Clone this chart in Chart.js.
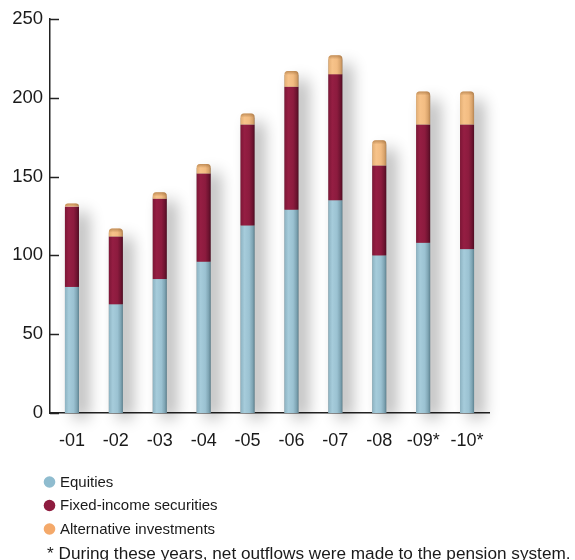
<!DOCTYPE html>
<html>
<head>
<meta charset="utf-8">
<script src="https://cdn.jsdelivr.net/npm/chart.js@4.4.0/dist/chart.umd.min.js"></script>
<style>
  html, body { margin: 0; padding: 0; background: #ffffff; }
  #wrap { width: 575px; height: 560px; position: relative; }
</style>
</head>
<body>
<div id="wrap"><canvas id="c" width="575" height="560"></canvas></div>
<script>
// Pension fund capital by asset class, per year
const years = ['-01', '-02', '-03', '-04', '-05', '-06', '-07', '-08', '-09*', '-10*'];
const equities = [80, 69, 85, 96, 119, 129, 135, 100, 108, 104];
const fixedIncome = [51, 43, 51, 56, 64, 78, 80, 57, 75, 79];
const alternatives = [2, 5, 4, 6, 7, 10, 12, 16, 21, 21];
const yTicks = [0, 50, 100, 150, 200, 250];
const seriesNames = ['Equities', 'Fixed-income securities', 'Alternative investments'];
const footnote = '* During these years, net outflows were made to the pension system.';

const FONT = '"Liberation Sans", Arial, sans-serif';

// Cylinder-style shading for each series (left -> right across a bar)
const shades = [
  { legend: '#8fbccf', stops: [[0, '#8cb2c1'], [0.28, '#a6ccdb'], [0.62, '#9bc2d2'], [0.85, '#7fa5b4'], [1, '#5e8391']] },
  { legend: '#8e1c3f', stops: [[0, '#7d1636'], [0.28, '#951e43'], [0.62, '#8c1b3e'], [0.85, '#6e1330'], [1, '#4f0c22']] },
  { legend: '#f4a96a', stops: [[0, '#e2ad73'], [0.28, '#f7c38a'], [0.62, '#f2bc82'], [0.85, '#d9a46c'], [1, '#b58452']] }
];

const cylinderBars = {
  id: 'cylinderBars',
  beforeDatasetsDraw(chart) {
    const ctx = chart.ctx;
    const n = chart.data.datasets.length;
    // soft drop shadow behind each full stack
    ctx.save();
    chart.data.labels.forEach((_, i) => {
      let top = Infinity, bottom = -Infinity, x = 0, w = 0;
      for (let d = 0; d < n; d++) {
        const p = chart.getDatasetMeta(d).data[i].getProps(['x', 'y', 'base', 'width'], true);
        top = Math.min(top, p.y);
        bottom = Math.max(bottom, p.base);
        x = p.x; w = p.width;
      }
      ctx.shadowColor = 'rgba(0,0,0,0.32)';
      ctx.shadowBlur = 16;
      ctx.shadowOffsetX = 9;
      ctx.shadowOffsetY = 5;
      ctx.fillStyle = '#999';
      ctx.fillRect(x - w / 2, top + 4, w, bottom - top - 4);
    });
    ctx.restore();

    // shaded segments
    for (let d = 0; d < n; d++) {
      const meta = chart.getDatasetMeta(d);
      meta.data.forEach((el) => {
        const p = el.getProps(['x', 'y', 'base', 'width'], true);
        const left = p.x - p.width / 2;
        const g = ctx.createLinearGradient(left, 0, left + p.width, 0);
        shades[d].stops.forEach(s => g.addColorStop(s[0], s[1]));
        ctx.save();
        ctx.fillStyle = g;
        const h = p.base - p.y;
        if (d === n - 1) {
          const r = Math.min(3.5, h);
          ctx.beginPath();
          ctx.moveTo(left, p.base);
          ctx.lineTo(left, p.y + r);
          ctx.quadraticCurveTo(left, p.y, left + r, p.y);
          ctx.lineTo(left + p.width - r, p.y);
          ctx.quadraticCurveTo(left + p.width, p.y, left + p.width, p.y + r);
          ctx.lineTo(left + p.width, p.base);
          ctx.closePath();
          ctx.fill();
          // darker rim along the rounded cap
          const rim = ctx.createLinearGradient(0, p.y, 0, p.y + 4);
          rim.addColorStop(0, 'rgba(150,100,50,0.55)');
          rim.addColorStop(1, 'rgba(150,100,50,0)');
          ctx.fillStyle = rim;
          ctx.fill();
        } else {
          ctx.fillRect(left, p.y, p.width, h);
        }
        ctx.restore();
      });
    }
    return false;
  }
};

// Short inward tick marks on the value axis
const innerTicks = {
  id: 'innerTicks',
  afterDraw(chart) {
    const ctx = chart.ctx;
    const y = chart.scales.y;
    const left = chart.chartArea.left;
    ctx.save();
    ctx.strokeStyle = '#222';
    ctx.lineWidth = 1.5;
    yTicks.forEach(v => {
      const py = Math.round(y.getPixelForValue(v)) + 0.5;
      ctx.beginPath();
      ctx.moveTo(left, py);
      ctx.lineTo(left + 9, py);
      ctx.stroke();
    });
    ctx.restore();
  }
};

// Vertical legend with round markers, plus the footnote
const legendBlock = {
  id: 'legendBlock',
  afterDraw(chart) {
    const ctx = chart.ctx;
    ctx.save();
    ctx.textBaseline = 'middle';
    ctx.textAlign = 'left';
    ctx.font = '15px ' + FONT;
    const rows = [482, 505.5, 529];
    chart.data.datasets.forEach((ds, i) => {
      ctx.fillStyle = shades[i].legend;
      ctx.beginPath();
      ctx.arc(49.5, rows[i], 5.8, 0, Math.PI * 2);
      ctx.fill();
      ctx.fillStyle = '#1a1a1a';
      ctx.fillText(ds.label, 60, rows[i] + 0.5);
    });
    ctx.font = '17.2px ' + FONT;
    ctx.fillText(footnote, 47, 554);
    ctx.restore();
  }
};

new Chart(document.getElementById('c'), {
  type: 'bar',
  data: {
    labels: years,
    datasets: [
      { label: seriesNames[0], data: equities, backgroundColor: shades[0].legend },
      { label: seriesNames[1], data: fixedIncome, backgroundColor: shades[1].legend },
      { label: seriesNames[2], data: alternatives, backgroundColor: shades[2].legend }
    ]
  },
  options: {
    responsive: false,
    animation: false,
    devicePixelRatio: 1,
    layout: { padding: { top: 19, right: 86, left: 0, bottom: 0 } },
    datasets: { bar: { categoryPercentage: 1, barPercentage: 0.32 } },
    plugins: { legend: { display: false }, tooltip: { enabled: false } },
    scales: {
      x: {
        stacked: true,
        grid: { display: false, drawTicks: false },
        border: { display: true, color: '#222', width: 1.5 },
        ticks: { color: '#1a1a1a', font: { family: FONT, size: 18 }, padding: 17, maxRotation: 0, autoSkip: false },
        afterFit(scale) { scale.height = 147; }
      },
      y: {
        stacked: true,
        min: 0,
        max: 250,
        afterBuildTicks(scale) { scale.ticks = yTicks.map(v => ({ value: v })); },
        grid: { display: false, drawTicks: false },
        border: { display: true, color: '#222', width: 1.5 },
        ticks: { color: '#1a1a1a', font: { family: FONT, size: 18.5 }, padding: 7 },
        afterFit(scale) { scale.width = 50; }
      }
    }
  },
  plugins: [cylinderBars, innerTicks, legendBlock]
});
</script>
</body>
</html>
